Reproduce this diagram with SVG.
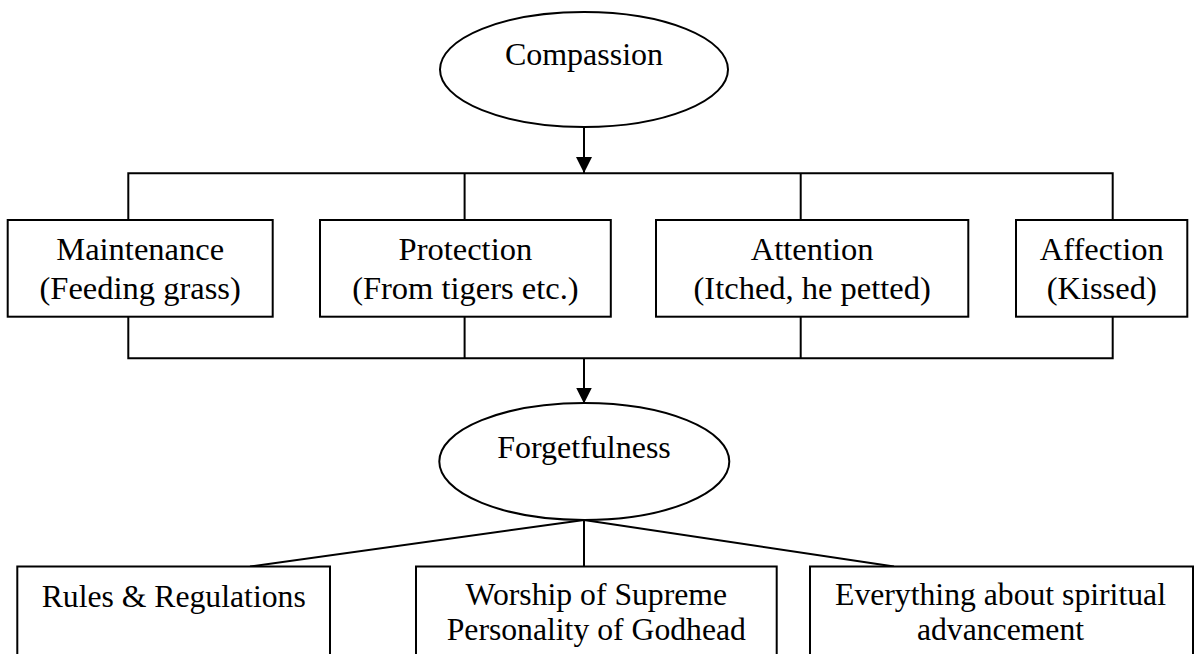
<svg xmlns="http://www.w3.org/2000/svg" width="1194" height="654" viewBox="0 0 1194 654">
  <style>
    .shape { fill: #ffffff; stroke: #000000; stroke-width: 2; }
    .wire { fill: none; stroke: #000000; stroke-width: 2; }
    .t { font-family: "Liberation Serif", "Times New Roman", serif; font-size: 32px; fill: #000000; text-anchor: middle; }
    .m { font-family: "Liberation Serif", "Times New Roman", serif; font-size: 32.5px; fill: #000000; text-anchor: middle; }
    .b { font-family: "Liberation Serif", "Times New Roman", serif; font-size: 31.7px; fill: #000000; text-anchor: middle; }
  </style>
  <defs>
    <marker id="arrow" markerUnits="userSpaceOnUse" markerWidth="16" markerHeight="16" refX="16" refY="8" orient="auto">
      <path d="M0,0 L16,8 L0,16 Z" fill="#000000"/>
    </marker>
  </defs>
  <rect width="1194" height="654" fill="#ffffff"/>

  <!-- connectors -->
  <g id="connectors">
    <line class="wire" x1="584" y1="127" x2="584" y2="173" marker-end="url(#arrow)"/>
    <polyline class="wire" points="128.3,220 128.3,173.3 1112.7,173.3 1112.7,220"/>
    <line class="wire" x1="464.6" y1="173.3" x2="464.6" y2="220"/>
    <line class="wire" x1="800.7" y1="173.3" x2="800.7" y2="220"/>
    <polyline class="wire" points="128.3,311.7 128.3,358.3 1112.7,358.3 1112.7,311.7"/>
    <line class="wire" x1="464.6" y1="311.7" x2="464.6" y2="358.3"/>
    <line class="wire" x1="800.7" y1="311.7" x2="800.7" y2="358.3"/>
    <line class="wire" x1="584" y1="358.3" x2="584" y2="403.5" marker-end="url(#arrow)"/>
    <line class="wire" x1="584" y1="520" x2="250" y2="566.5"/>
    <line class="wire" x1="584" y1="520" x2="584" y2="566.5"/>
    <line class="wire" x1="584" y1="520" x2="894" y2="566.5"/>
  </g>

  <!-- top ellipse -->
  <g id="compassion">
    <ellipse class="shape" cx="584" cy="69.5" rx="144" ry="57.5"/>
    <text class="t" x="584" y="65">Compassion</text>
  </g>

  <!-- middle row -->
  <g id="maintenance">
    <rect class="shape" x="7.7" y="220" width="265" height="96.7"/>
    <text class="m" x="140.2" y="260">Maintenance</text>
    <text class="m" x="140.2" y="299">(Feeding grass)</text>
  </g>
  <g id="protection">
    <rect class="shape" x="320" y="220" width="290.8" height="96.7"/>
    <text class="m" x="465.4" y="260">Protection</text>
    <text class="m" x="465.4" y="299">(From tigers etc.)</text>
  </g>
  <g id="attention">
    <rect class="shape" x="656" y="220" width="312.3" height="96.7"/>
    <text class="m" x="812.2" y="260">Attention</text>
    <text class="m" x="812.2" y="299">(Itched, he petted)</text>
  </g>
  <g id="affection">
    <rect class="shape" x="1016" y="220" width="171.3" height="96.7"/>
    <text class="m" x="1101.7" y="260">Affection</text>
    <text class="m" x="1101.7" y="299">(Kissed)</text>
  </g>

  <!-- lower ellipse -->
  <g id="forgetfulness">
    <ellipse class="shape" cx="584.3" cy="461.5" rx="145" ry="58.5"/>
    <text class="t" x="584" y="458.3">Forgetfulness</text>
  </g>

  <!-- bottom row -->
  <g id="rules">
    <rect class="shape" x="17.3" y="566.5" width="312.7" height="100"/>
    <text class="b" x="173.7" y="606.5">Rules &amp; Regulations</text>
  </g>
  <g id="worship">
    <rect class="shape" x="416" y="566.5" width="360.7" height="100"/>
    <text class="b" x="596.3" y="605">Worship of Supreme</text>
    <text class="b" x="596.3" y="640">Personality of Godhead</text>
  </g>
  <g id="everything">
    <rect class="shape" x="810" y="566.5" width="383" height="100"/>
    <text class="b" x="1000.5" y="605">Everything about spiritual</text>
    <text class="b" x="1000.5" y="640">advancement</text>
  </g>
</svg>
